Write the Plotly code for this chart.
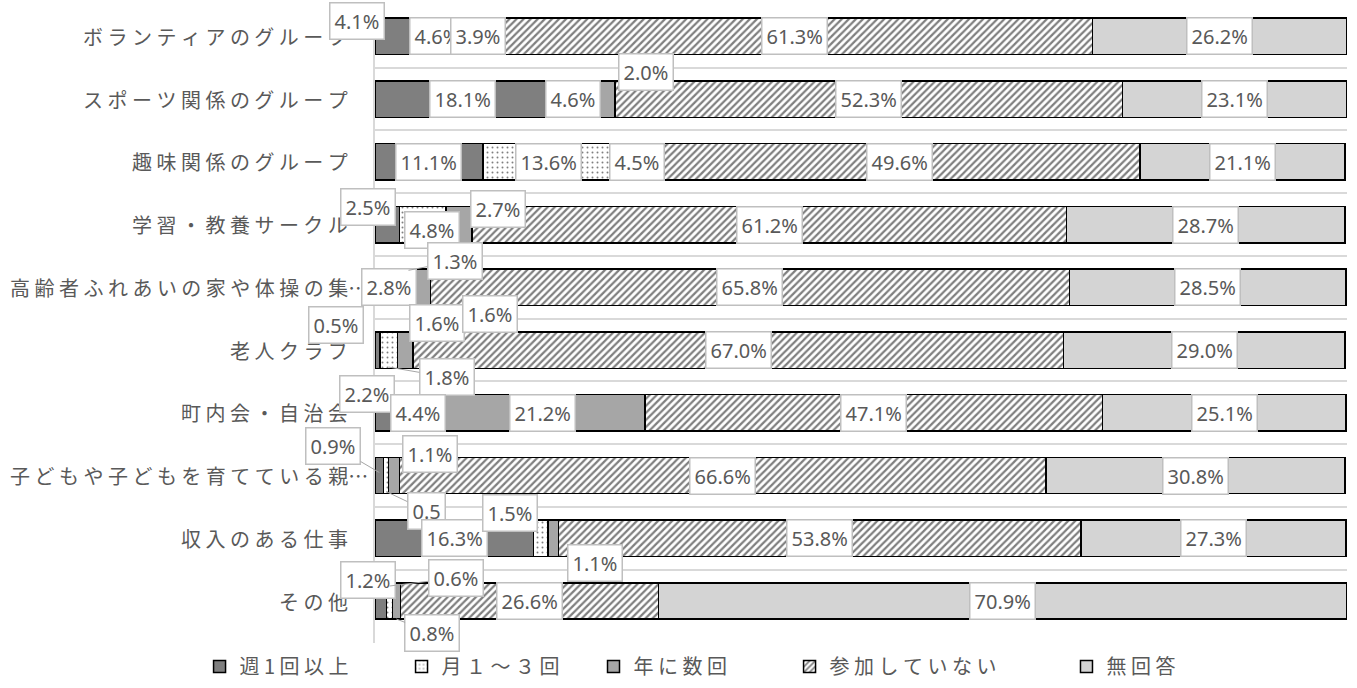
import plotly.graph_objects as go

# Survey rows (top to bottom) and the share of answers for each frequency
categories = [
    "ボランティアのグループ",
    "スポーツ関係のグループ",
    "趣味関係のグループ",
    "学習・教養サークル",
    "高齢者ふれあいの家や体操の集…",
    "老人クラブ",
    "町内会・自治会",
    "子どもや子どもを育てている親…",
    "収入のある仕事",
    "その他",
]
weekly = [4.1, 18.1, 11.1, 2.5, 2.8, 0.5, 2.2, 0.9, 16.3, 1.2]
monthly = [4.6, 4.6, 13.6, 4.8, 1.3, 1.8, 4.4, 0.5, 1.5, 0.6]
yearly = [3.9, 2.0, 4.5, 2.7, 1.6, 1.6, 21.2, 1.1, 1.1, 0.8]
not_joined = [61.3, 52.3, 49.6, 61.2, 65.8, 67.0, 47.1, 66.6, 53.8, 26.6]
no_answer = [26.2, 23.1, 21.1, 28.7, 28.5, 29.0, 25.1, 30.8, 27.3, 70.9]
series_names = ["週1回以上", "月１～３回", "年に数回", "参加していない", "無回答"]

series_values = [weekly, monthly, yearly, not_joined, no_answer]

# --- styling -------------------------------------------------------------
TEXT = "#595959"
GRID = "#d9d9d9"
JP = "Noto Sans CJK JP"
LABEL_FONT = dict(family="Noto Sans, " + JP, size=20, color=TEXT)
CAPTION_FONT = dict(family=JP, size=20, color=TEXT)


def spaced(s):
    """Open up the character pitch of a caption with plain spaces."""
    if s.endswith("…"):
        return " ".join(s[:-1]) + "…"
    return " ".join(s)


markers = [
    dict(color="#7f7f7f"),
    dict(color="white", pattern=dict(shape=".", fgcolor="black", bgcolor="white",
                                     size=5, solidity=0.12)),
    dict(color="#a6a6a6"),
    dict(color="white", pattern=dict(shape="/", fgcolor="black", bgcolor="white",
                                     size=5, solidity=0.45)),
    dict(color="#d4d4d4"),
]

# legend entries are placed individually along the bottom edge (paper x)
legend_x = [-0.1805, 0.0273, 0.2248, 0.4265, 0.7114]

fig = go.Figure()
for i, (name, vals) in enumerate(zip(series_names, series_values)):
    m = dict(markers[i])
    m["line"] = dict(color="black", width=1.5)
    lg = "legend" if i == 0 else f"legend{i + 1}"
    fig.add_trace(go.Bar(
        y=categories, x=vals, name=spaced(name), orientation="h",
        marker=m, width=0.58, legend=lg, showlegend=True,
        hovertemplate="%{y}<br>" + name + ": %{x:.1f}%<extra></extra>",
    ))

annotations = []

# --- category captions (right-aligned against the plot's left edge) --------
for cat in categories:
    overflow = cat.endswith("…")
    annotations.append(dict(
        x=0, y=cat, xref="paper", yref="y", xanchor="right", yanchor="middle",
        text=spaced(cat), font=CAPTION_FONT, showarrow=False,
        xshift=-5 if overflow else -25,
    ))

# --- data labels -----------------------------------------------------------
# labels nudged away from their segment centre: (row, series) -> (dx, dy) px
nudged = {
    (0, 0): (-38, 15), (1, 2): (41, 27),
    (3, 0): (-19, 18), (3, 1): (9, -5), (3, 2): (39, 16),
    (4, 2): (14, -36), (5, 0): (-41, 25), (5, 2): (85, 36),
    (6, 0): (-19, 19), (7, 2): (36, 22),
    (8, 1): (-31, 25), (8, 2): (42, -25), (9, 0): (-13, 21),
}
# labels joined to their segment by a leader: (row, series) -> (tip dy, ax, ay)
leaders = {
    (4, 1): (17, 46, -9), (5, 1): (-17, 58, 10),
    (7, 0): (3, -46, -27), (7, 1): (-16, 40, 19),
    (9, 1): (15, 66, -8), (9, 2): (-18, 36, 14),
}
label_text = {(7, 1): "0.5"}

for r, cat in enumerate(categories):
    start = 0.0
    for s, vals in enumerate(series_values):
        v = vals[r]
        mid = start + v / 2
        start += v
        text = label_text.get((r, s), f"{v:.1f}%")
        box = dict(x=mid, y=cat, xref="x", yref="y", text=text, font=LABEL_FONT,
                   bgcolor="white", bordercolor="#bfbfbf", borderwidth=1.5,
                   borderpad=4)
        if (r, s) in leaders:
            tdy, ax, ay = leaders[(r, s)]
            box.update(showarrow=True, arrowhead=0, arrowwidth=1,
                       arrowcolor="#a6a6a6", ax=ax, ay=ay, yshift=tdy,
                       axref="pixel", ayref="pixel")
        else:
            dx, dy = nudged.get((r, s), (0, 0))
            box.update(showarrow=False, xshift=dx, yshift=dy)
        annotations.append(box)

layout_legends = {}
for i, lx in enumerate(legend_x):
    key = "legend" if i == 0 else f"legend{i + 1}"
    layout_legends[key] = dict(
        x=lx, y=-0.037, xanchor="left", yanchor="middle", orientation="h",
        font=dict(family=JP, size=20, color=TEXT), bgcolor="rgba(0,0,0,0)",
        itemwidth=30, traceorder="normal", visible=True,
    )

fig.update_layout(
    width=1357, height=688,
    margin=dict(l=375, r=10, t=5, b=45, autoexpand=False),
    paper_bgcolor="white", plot_bgcolor="white",
    barmode="stack", showlegend=True,
    annotations=annotations,
    font=dict(family=JP, color=TEXT),
    **layout_legends,
)
fig.update_xaxes(visible=False, range=[0, 100.1], fixedrange=True)
fig.update_yaxes(
    type="category", autorange="reversed", tickson="boundaries",
    showgrid=True, gridcolor=GRID, gridwidth=1.5,
    showline=True, linecolor=GRID, linewidth=1.5,
    ticks="", showticklabels=False, automargin=False,
)

fig.write_html("out.html")
